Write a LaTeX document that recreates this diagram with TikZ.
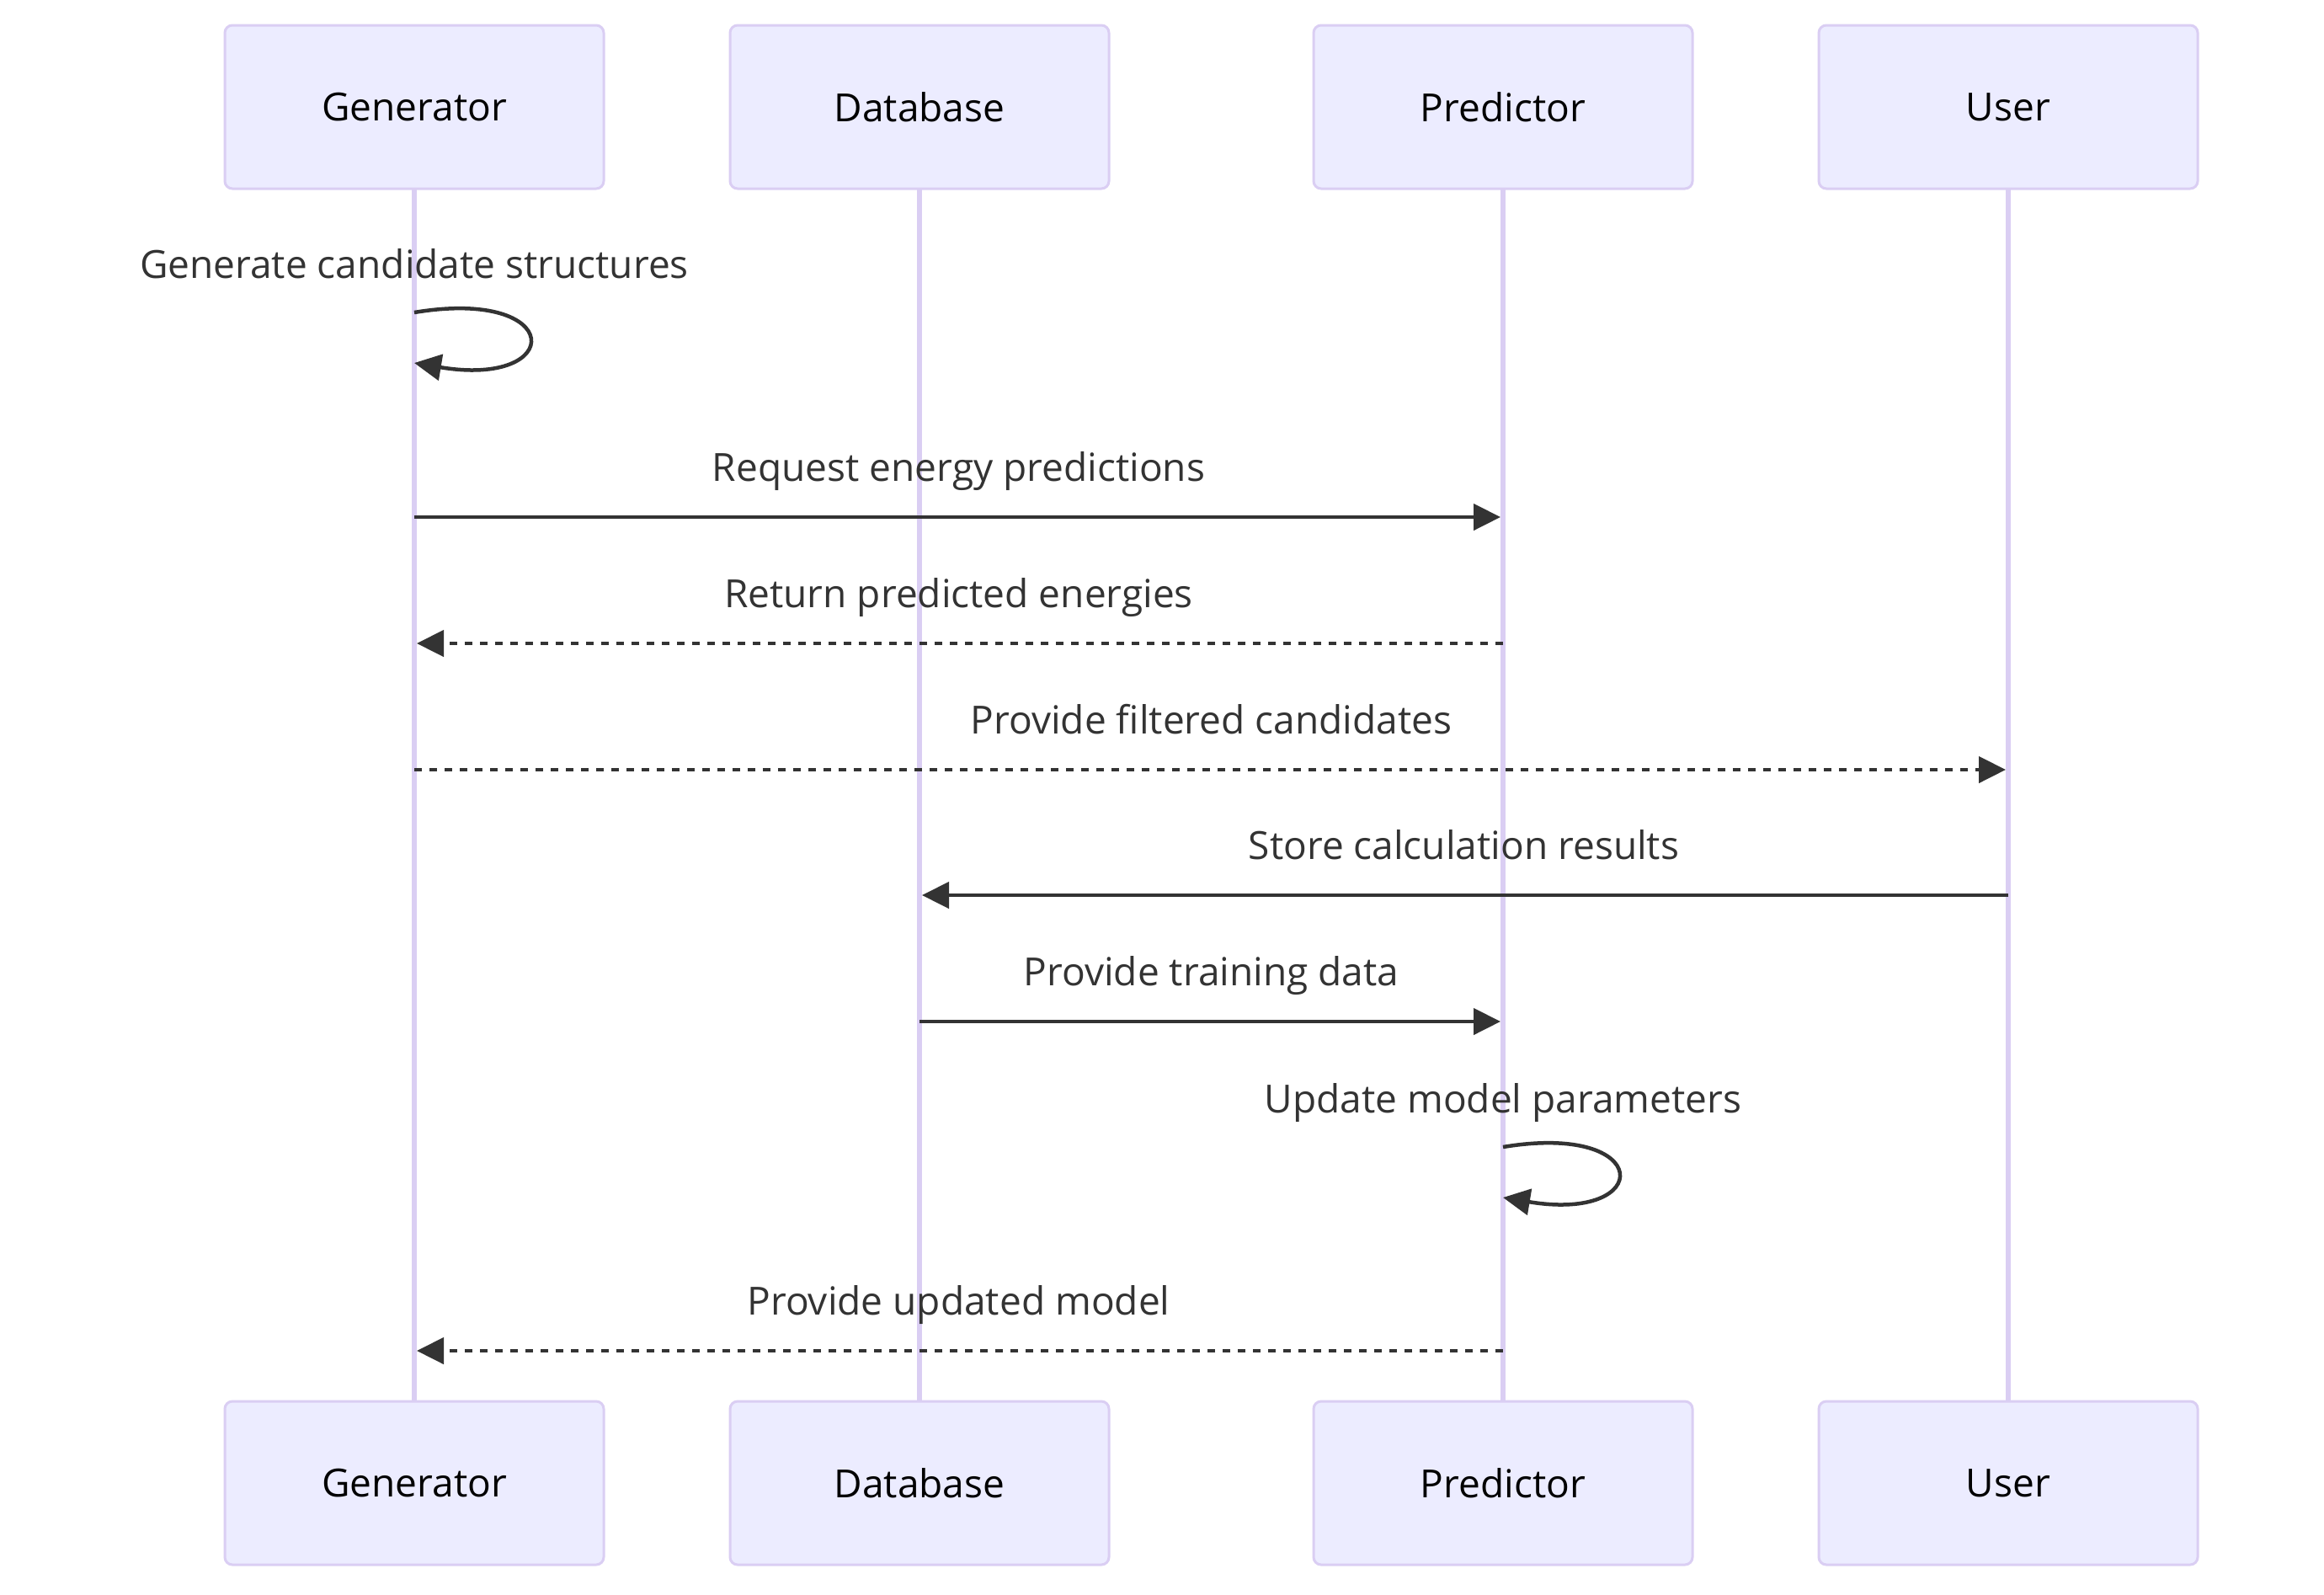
\documentclass[tikz,border=0pt]{standalone}
\usepackage{fontspec}
\setmainfont{Open Sans}
\usetikzlibrary{arrows.meta,positioning}
\definecolor{actfill}{HTML}{ECECFF}
\definecolor{actline}{HTML}{DACEF3}
\definecolor{msgcol}{HTML}{333333}
\tikzset{
  actor/.style={draw=actline,line width=0.03cm,fill=actfill,rounded corners=0.09cm,
    minimum width=4.5cm,minimum height=1.94cm,inner sep=0pt,outer sep=0pt,font=\fontsize{13.1}{16}\selectfont},
  lifeline/.style={draw=actline,line width=0.057cm},
  msg/.style={draw=msgcol,line width=0.045cm,shorten >=0.03cm,-{Triangle[length=0.32cm,width=0.31cm]}},
  reply/.style={msg,dash pattern=on 0.09cm off 0.09cm},
  selfmsg/.style={msg,shorten >=0pt},
  msglabel/.style={text=msgcol,anchor=base,yshift=0.43cm,inner sep=0pt,font=\fontsize{13.1}{16}\selectfont}
}
\begin{document}
\begin{tikzpicture}
            \fill[white] (0,0) rectangle (27.6,-18.93);
            \useasboundingbox (0,0) rectangle (27.6,-18.93);
            % actors, top row
            \node[actor] (gen) at (4.92,-1.27) {Generator};
            \node[actor,right=1.5cm of gen] (db) {Database};
            \node[actor,right=2.43cm of db] (pred) {Predictor};
            \node[actor,right=1.5cm of pred] (user) {User};
            % actors, bottom row
            \node[actor,below=14.4cm of gen] (genb) {Generator};
            \node[actor,below=14.4cm of db] (dbb) {Database};
            \node[actor,below=14.4cm of pred] (predb) {Predictor};
            \node[actor,below=14.4cm of user] (userb) {User};
            % lifelines
            \draw[lifeline] (gen) -- (genb);
            \draw[lifeline] (db) -- (dbb);
            \draw[lifeline] (pred) -- (predb);
            \draw[lifeline] (user) -- (userb);
            % message rows
            \coordinate (r1) at (0,-3.71);
            \coordinate (r1e) at (0,-4.31);
            \coordinate (r2) at (0,-6.14);
            \coordinate (r3) at (0,-7.64);
            \coordinate (r4) at (0,-9.14);
            \coordinate (r5) at (0,-10.63);
            \coordinate (r6) at (0,-12.13);
            \coordinate (r7) at (0,-13.62);
            \coordinate (r7e) at (0,-14.22);
            \coordinate (r8) at (0,-16.04);
            % messages
            \node[msglabel,yshift=-0.02cm] (l1) at (gen |- r1) {Generate candidate structures};
            \draw[selfmsg] (gen |- r1) .. controls +(1.8,0.3) and +(1.8,-0.3) .. (gen |- r1e);
            \draw[msg] (gen |- r2) -- node[msglabel] {Request energy predictions} (pred |- r2);
            \draw[reply] (pred |- r3) -- node[msglabel] {Return predicted energies} (gen |- r3);
            \draw[reply] (gen |- r4) -- node[msglabel] {Provide filtered candidates} (user |- r4);
            \draw[msg] (user |- r5) -- node[msglabel] {Store calculation results} (db |- r5);
            \draw[msg] (db |- r6) -- node[msglabel] {Provide training data} (pred |- r6);
            \node[msglabel,yshift=-0.02cm] (l7) at (pred |- r7) {Update model parameters};
            \draw[selfmsg] (pred |- r7) .. controls +(1.8,0.3) and +(1.8,-0.3) .. (pred |- r7e);
            \draw[reply] (pred |- r8) -- node[msglabel] {Provide updated model} (gen |- r8);
        \end{tikzpicture}
\end{document}
